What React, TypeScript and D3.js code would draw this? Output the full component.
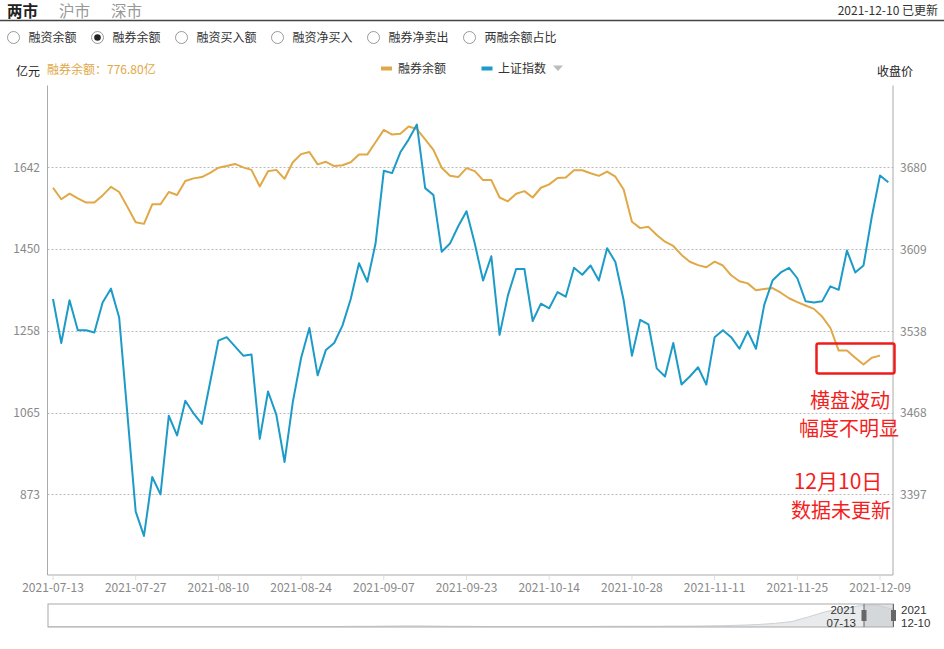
import React from "react";
import * as d3 from "d3";

const dates: string[] = [
  "2021-07-13","2021-07-14","2021-07-15","2021-07-16","2021-07-19","2021-07-20","2021-07-21","2021-07-22","2021-07-23","2021-07-26","2021-07-27","2021-07-28","2021-07-29","2021-07-30",
  "2021-08-02","2021-08-03","2021-08-04","2021-08-05","2021-08-06","2021-08-09","2021-08-10","2021-08-11","2021-08-12","2021-08-13","2021-08-16","2021-08-17","2021-08-18","2021-08-19","2021-08-20","2021-08-23","2021-08-24","2021-08-25","2021-08-26","2021-08-27","2021-08-30","2021-08-31",
  "2021-09-01","2021-09-02","2021-09-03","2021-09-06","2021-09-07","2021-09-08","2021-09-09","2021-09-10","2021-09-13","2021-09-14","2021-09-15","2021-09-16","2021-09-17","2021-09-22","2021-09-23","2021-09-24","2021-09-27","2021-09-28","2021-09-29","2021-09-30",
  "2021-10-08","2021-10-11","2021-10-12","2021-10-13","2021-10-14","2021-10-15","2021-10-18","2021-10-19","2021-10-20","2021-10-21","2021-10-22","2021-10-25","2021-10-26","2021-10-27","2021-10-28","2021-10-29",
  "2021-11-01","2021-11-02","2021-11-03","2021-11-04","2021-11-05","2021-11-08","2021-11-09","2021-11-10","2021-11-11","2021-11-12","2021-11-15","2021-11-16","2021-11-17","2021-11-18","2021-11-19","2021-11-22","2021-11-23","2021-11-24","2021-11-25","2021-11-26","2021-11-29","2021-11-30",
  "2021-12-01","2021-12-02","2021-12-03","2021-12-06","2021-12-07","2021-12-08","2021-12-09","2021-12-10"
];

// 融券余额 (亿元), 12-10 not updated
const marginShort: number[] = [
  1594,1567,1580,1569,1559,1559,1576,1596,1584,1549,1513,1509,1555,1555,1584,1577,1610,1616,1619,1629,
  1641,1645,1650,1642,1636,1597,1633,1636,1615,1654,1673,1678,1649,1655,1645,1647,1654,1672,1672,1701,
  1730,1719,1721,1738,1732,1708,1683,1641,1622,1619,1640,1633,1612,1612,1571,1562,1580,1586,1571,1594,
  1602,1617,1618,1635,1635,1628,1622,1632,1620,1590,1514,1499,1502,1483,1467,1457,1436,1420,1412,1407,
  1420,1411,1388,1374,1369,1353,1356,1358,1347,1334,1325,1317,1309,1291,1264,1211,1211,1194,1178,1194,
  1199
];

// 上证指数 收盘价
const sseClose: number[] = [
  3566,3528,3565,3539,3539,3537,3563,3575,3550,3466,3382,3361,3412,3397,3465,3448,3478,3467,3458,3494,
  3530,3533,3525,3517,3518,3445,3486,3466,3425,3477,3515,3541,3500,3522,3528,3543,3566,3597,3581,3614,
  3677,3675,3693,3704,3717,3662,3656,3607,3614,3629,3642,3614,3582,3603,3535,3569,3592,3592,3547,3562,
  3558,3572,3568,3593,3587,3595,3582,3610,3598,3565,3517,3548,3544,3506,3499,3528,3492,3499,3507,3492,
  3533,3539,3533,3523,3538,3523,3561,3582,3589,3593,3584,3564,3563,3564,3577,3574,3608,3589,3595,3637,
  3673,3667
];

const leftTicks: number[] = [873, 1065, 1258, 1450, 1642];
const rightTicks: number[] = [3397, 3468, 3538, 3609, 3680];
const xLabelEvery = 10;

// slider data shadow (relative level, long history)
const shadowValues: number[] = [
  2,2,2,2,2,2,2,2,2,2,2,2,2,2,2,2,2,2,3,3,
  4,5,5,4,3,3,2,2,2,2,2,2,2,3,3,3,3,4,4,5,
  6,8,11,16,24,45,68,82,94,98,78
];

const tabs = ["两市", "沪市", "深市"];
const radios = ["融资余额", "融券余额", "融资买入额", "融资净买入", "融券净卖出", "两融余额占比"];
const selectedRadio = 1;

const GOLD = "#e0a846";
const BLUE = "#1d9bc8";
const FONT = "'Microsoft YaHei', 'Noto Sans CJK SC', sans-serif";
const SMALL_FONT = "'Liberation Sans', Arial, sans-serif";

export default function App() {
  const W = 944, H = 649;
  const left = 47.5, right = 893, top = 85.5, bottom = 575;

  const x = d3.scalePoint<string>().domain(dates).range([53, 888.3]);
  const yL = d3.scaleLinear().domain([683, 1834.5]).range([bottom, top]);
  const yR = d3.scaleLinear().domain([3327.2, 3750.8]).range([bottom, top]);

  const goldLine = d3.line<number>()
    .x((_, i) => x(dates[i]) as number)
    .y((d) => yL(d))(marginShort) || "";
  const blueLine = d3.line<number>()
    .x((_, i) => x(dates[i]) as number)
    .y((d) => yR(d))(sseClose) || "";

  // slider
  const sTop = 604, sBot = 627;
  const sx = d3.scaleLinear().domain([0, shadowValues.length - 1]).range([48, 893]);
  const sy = d3.scaleLinear().domain([0, 100]).range([sBot, sTop + 0.5]);
  const shadowArea = d3.area<number>().x((_, i) => sx(i)).y0(sBot).y1((d) => sy(d))(shadowValues) || "";
  const shadowLine = d3.line<number>().x((_, i) => sx(i)).y((d) => sy(d))(shadowValues) || "";
  const hL = 864, hR = 893.5;

  const radioX = [13.5, 97.5, 181.5, 277.5, 373.5, 469.5];
  const tabX = [7, 59, 111];

  return (
    <svg width={W} height={H} style={{ position: "absolute", left: 0, top: 0, background: "#fff" }} fontFamily={FONT}>
      {/* header tabs */}
      {tabs.map((t, i) => (
        <text key={t} x={tabX[i]} y={17} fontSize={15.5} fontWeight={i === 0 ? "bold" : "normal"} fill={i === 0 ? "#222" : "#999"}>{t}</text>
      ))}
      <text x={938} y={15} fontSize={12} fill="#333" textAnchor="end">2021-12-10 已更新</text>
      <line x1={0} x2={W} y1={20.5} y2={20.5} stroke="#444" strokeWidth={1.5} />

      {/* radios */}
      {radios.map((r, i) => (
        <g key={r}>
          <circle cx={radioX[i]} cy={37.5} r={6} fill="#fff" stroke="#999" strokeWidth={1} />
          {i === selectedRadio && <circle cx={radioX[i]} cy={37.5} r={3.3} fill="#222" />}
          <text x={radioX[i] + 15} y={42} fontSize={12} fill="#333">{r}</text>
        </g>
      ))}

      {/* unit labels and info */}
      <text x={16} y={76} fontSize={12} fill="#222">亿元</text>
      <text x={47} y={74} fontSize={12} fill={GOLD}>融券余额：776.80亿</text>
      <text x={913} y={76} fontSize={12} fill="#222" textAnchor="end">收盘价</text>

      {/* legend */}
      <rect x={381} y={66.5} width={11} height={4} fill={GOLD} />
      <text x={398} y={73} fontSize={12} fill="#333">融券余额</text>
      <rect x={481.5} y={66.5} width={11} height={4} fill={BLUE} />
      <text x={498} y={73} fontSize={12} fill="#333">上证指数</text>
      <path d="M553,65.5 L563,65.5 L558,71 Z" fill="#bbb" />

      {/* grid */}
      {leftTicks.map((t) => (
        <line key={t} x1={left} x2={right} y1={Math.round(yL(t)) + 0.5} y2={Math.round(yL(t)) + 0.5} stroke="#bbb" strokeDasharray="2,2" />
      ))}
      {/* axes */}
      <line x1={left} x2={left} y1={top} y2={bottom} stroke="#aaa" />
      <line x1={right} x2={right} y1={top} y2={bottom} stroke="#aaa" />
      <line x1={left} x2={right} y1={bottom} y2={bottom} stroke="#aaa" />
      {leftTicks.map((t) => (
        <text key={"l" + t} x={40} y={yL(t) + 4.5} fontSize={12} fill="#888" textAnchor="end">{t}</text>
      ))}
      {rightTicks.map((t) => (
        <text key={"r" + t} x={900} y={yR(t) + 4.5} fontSize={12} fill="#888">{t}</text>
      ))}
      {dates.map((d, i) => i % xLabelEvery === 0 ? (
        <g key={d}>
          <line x1={(x(d) as number)} x2={(x(d) as number)} y1={bottom} y2={bottom + 5} stroke="#ddd" />
          <text x={x(d) as number} y={592} fontSize={12} fill="#888" textAnchor="middle">{d}</text>
        </g>
      ) : null)}

      {/* series */}
      <path d={goldLine} fill="none" stroke={GOLD} strokeWidth={2} strokeLinejoin="round" />
      <path d={blueLine} fill="none" stroke={BLUE} strokeWidth={2} strokeLinejoin="round" />

      {/* annotations */}
      <rect x={816.5} y={343.5} width={78} height={30} rx={2} fill="none" stroke="#f01c1c" strokeWidth={2.5} />
      <text x={850} y={408} fontSize={20} fill="#f41e1e" textAnchor="middle">横盘波动</text>
      <text x={849} y={436} fontSize={20} fill="#f41e1e" textAnchor="middle">幅度不明显</text>
      <text x={838} y={489} fontSize={21} fill="#f41e1e" textAnchor="middle">12月10日</text>
      <text x={841} y={518} fontSize={20} fill="#f41e1e" textAnchor="middle">数据未更新</text>

      {/* slider */}
      <path d={shadowArea} fill="#e8eaec" />
      <path d={shadowLine} fill="none" stroke="#cdd1d5" strokeWidth={1} />
      <rect x={hL} y={sTop} width={hR - hL} height={sBot - sTop} fill="#c8cbce" fillOpacity={0.6} />
      <rect x={48} y={sTop} width={845} height={sBot - sTop} fill="none" stroke="#aaa" />
      <line x1={hL} x2={hL} y1={sTop} y2={sBot} stroke="#666" />
      <line x1={hR} x2={hR} y1={sTop} y2={sBot} stroke="#666" />
      <rect x={hL - 2.5} y={610} width={5} height={11} fill="#666" />
      <rect x={hR - 2.5} y={610} width={5} height={11} fill="#666" />
      <text x={856} y={613.5} fontSize={11.5} fontFamily={SMALL_FONT} fill="#333" textAnchor="end">2021</text>
      <text x={856} y={627} fontSize={11.5} fontFamily={SMALL_FONT} fill="#333" textAnchor="end">07-13</text>
      <text x={901} y={613.5} fontSize={11.5} fontFamily={SMALL_FONT} fill="#333">2021</text>
      <text x={901} y={627} fontSize={11.5} fontFamily={SMALL_FONT} fill="#333">12-10</text>
    </svg>
  );
}
